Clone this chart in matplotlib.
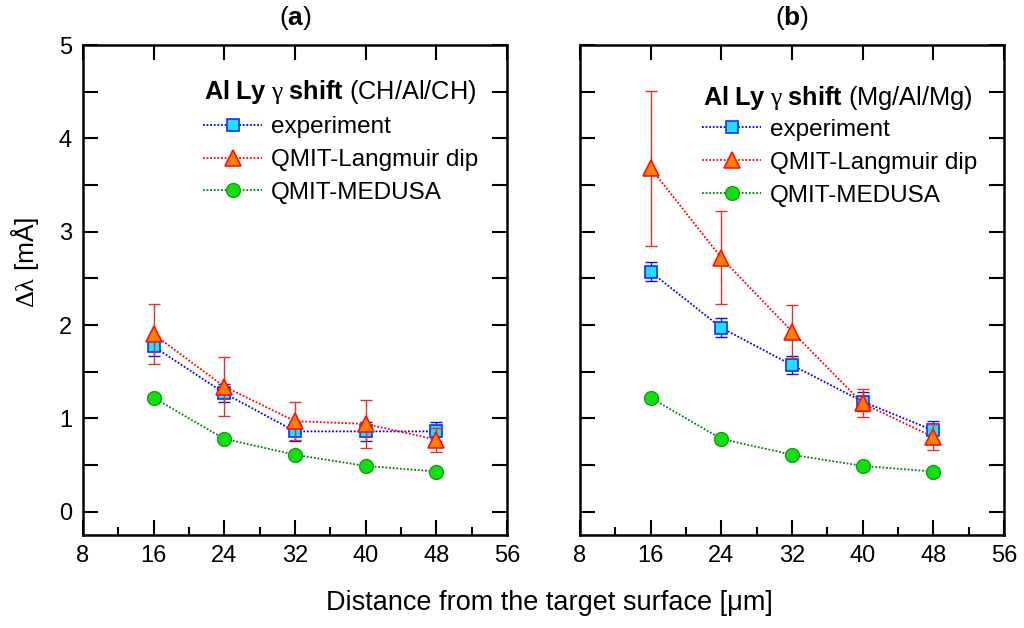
import matplotlib
matplotlib.use("Agg")
import matplotlib.pyplot as plt
from matplotlib.ticker import MultipleLocator, FuncFormatter

plt.rcParams['font.family'] = ['Liberation Sans', 'DejaVu Sans']
plt.rcParams['mathtext.fontset'] = 'custom'
plt.rcParams['mathtext.rm'] = 'Liberation Serif'
plt.rcParams['mathtext.bf'] = 'Liberation Sans:bold'
plt.rcParams['mathtext.it'] = 'Liberation Serif:italic'

# ---- data ----
distance = [16, 24, 32, 40, 48]

exp_a = [1.77, 1.27, 0.86, 0.86, 0.86]
exp_a_err = [0.10, 0.10, 0.10, 0.10, 0.10]
lang_a = [1.90, 1.34, 0.97, 0.94, 0.77]
lang_a_err = [0.32, 0.32, 0.20, 0.26, 0.13]
med_a = [1.22, 0.78, 0.61, 0.49, 0.43]

exp_b = [2.57, 1.97, 1.57, 1.18, 0.87]
exp_b_err = [0.10, 0.10, 0.10, 0.10, 0.10]
lang_b = [3.68, 2.72, 1.93, 1.16, 0.80]
lang_b_err = [0.83, 0.50, 0.28, 0.15, 0.14]
med_b = [1.22, 0.78, 0.61, 0.49, 0.43]

labels = ["experiment", "QMIT-Langmuir dip", "QMIT-MEDUSA"]
titles = [r"($\mathbf{a}$)", r"($\mathbf{b}$)"]
legend_titles = [r"$\mathbf{Al\ Ly}\ \mathrm{\gamma}\ \mathbf{shift}$ (CH/Al/CH)",
                 r"$\mathbf{Al\ Ly}\ \mathrm{\gamma}\ \mathbf{shift}$ (Mg/Al/Mg)"]
xlabel = "Distance from the target surface [μm]"
ylabel = r"$\mathrm{\Delta\lambda}$ [mÅ]"

fig = plt.figure(figsize=(10.24, 6.28), dpi=100)
ax_a = fig.add_axes([83/1024, 93/628, 424/1024, 490/628])
ax_b = fig.add_axes([580/1024, 93/628, 424/1024, 490/628])

panels = [
    (ax_a, exp_a, exp_a_err, lang_a, lang_a_err, med_a),
    (ax_b, exp_b, exp_b_err, lang_b, lang_b_err, med_b),
]

FS_TICK = 17
FS_LEG = 17.5

for i, (ax, ex, exe, la, lae, me) in enumerate(panels):
    ax.errorbar(distance, ex, yerr=exe, fmt='none', ecolor='#1010e0',
                elinewidth=1.0, capsize=4.5, capthick=1.0, zorder=3)
    h1, = ax.plot(distance, ex, linestyle=(0, (1, 1)), color='#0000ff', lw=1.3,
                  marker='s', ms=8.5, mfc='#20e0ff', mec='#1030ff', mew=1.2, zorder=4)
    ax.errorbar(distance, la, yerr=lae, fmt='none', ecolor='#e03030',
                elinewidth=1.0, capsize=4.5, capthick=1.0, zorder=5)
    h2, = ax.plot(distance, la, linestyle=(0, (1, 1)), color='#ff0000', lw=1.3,
                  marker='^', ms=11.5, mfc='#ff8000', mec='#ff1010', mew=1.2, zorder=6)
    h3, = ax.plot(distance, me, linestyle=(0, (1, 1)), color='#008000', lw=1.3,
                  marker='o', ms=10, mfc='#10e010', mec='#10a010', mew=1.0, zorder=4)

    ax.set_xlim(8, 56)
    ax.set_ylim(-0.25, 5)
    ax.xaxis.set_major_locator(MultipleLocator(8))
    ax.xaxis.set_minor_locator(MultipleLocator(4))
    ax.yaxis.set_major_locator(MultipleLocator(0.5))
    ax.yaxis.set_major_formatter(FuncFormatter(
        lambda v, p: f"{int(round(v))}" if abs(v - round(v)) < 1e-6 else ""))
    ax.tick_params(which='major', direction='in', length=11, width=1.5,
                   top=True, right=True, labelsize=FS_TICK, pad=7)
    ax.tick_params(which='minor', direction='in', length=6, width=1.5,
                   top=False, right=False, bottom=True)
    ax.tick_params(axis='y', which='major', pad=8)
    for s in ax.spines.values():
        s.set_linewidth(1.8)
    if i == 1:
        ax.tick_params(axis='y', labelleft=False)

    ax.text(0.5, 1.055, titles[i], transform=ax.transAxes, ha='center',
            va='center', fontsize=19)

    ty = 0.904 if i == 0 else 0.892
    ax.text(0.285 if i == 0 else 0.290, ty, legend_titles[i], transform=ax.transAxes,
            ha='left', va='center', fontsize=18.3)
    ly = 0.855 if i == 0 else 0.849
    ax.legend([h1, h2, h3], labels, loc='upper left',
              bbox_to_anchor=(0.283 if i == 0 else 0.288, ly),
              frameon=False, borderpad=0, borderaxespad=0, handlelength=2.43,
              handletextpad=0.37, labelspacing=0.45, fontsize=FS_LEG, numpoints=1)

ax_a.set_ylabel(ylabel, fontsize=19)
ax_a.yaxis.set_label_coords(-0.10, 0.557)
fig.text(549/1024, 25/628, xlabel, ha='center', va='center', fontsize=19.5)

fig.savefig("out.png", dpi=100)
